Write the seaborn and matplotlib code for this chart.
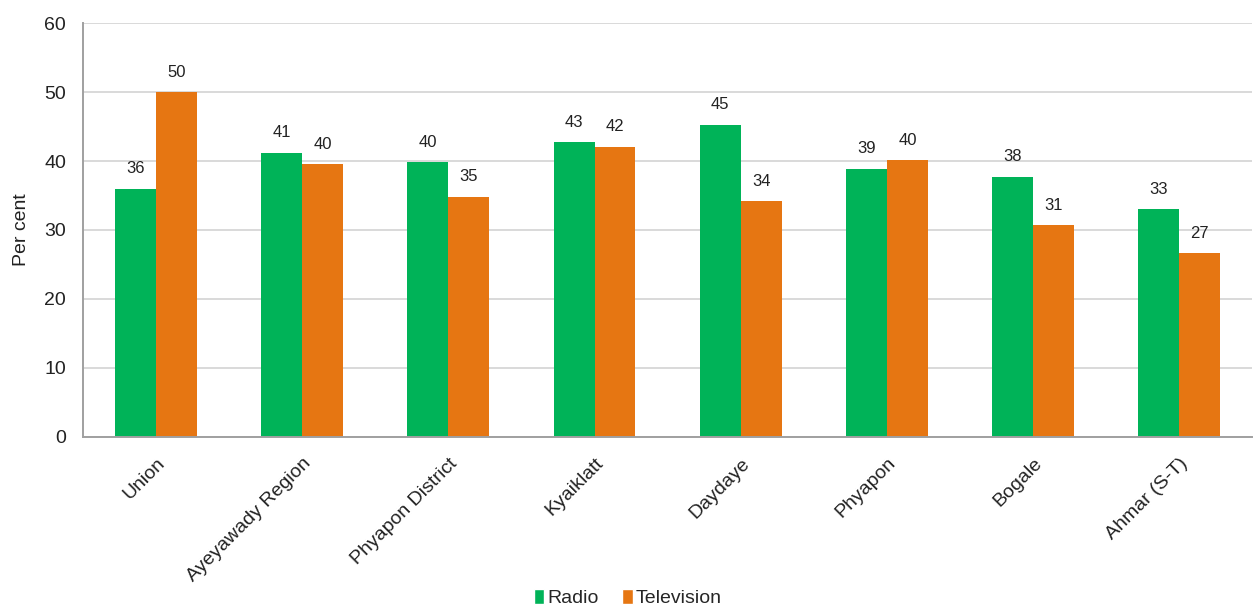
import matplotlib
matplotlib.use("Agg")
import matplotlib.pyplot as plt
import seaborn as sns
import pandas as pd
from matplotlib.patches import Patch

categories = ["Union", "Ayeyawady Region", "Phyapon District", "Kyaiklatt",
              "Daydaye", "Phyapon", "Bogale", "Ahmar (S-T)"]
radio = [36.0, 41.2, 39.8, 42.7, 45.3, 38.9, 37.7, 33.0]
television = [50.0, 39.5, 34.8, 42.1, 34.2, 40.1, 30.7, 26.6]
series = ["Radio", "Television"]
colors = ["#00B358", "#E67612"]
yticks = [0, 10, 20, 30, 40, 50, 60]

df = pd.DataFrame({
    "Area": categories * 2,
    "Source": [series[0]] * len(categories) + [series[1]] * len(categories),
    "Value": radio + television,
})

sns.set_theme(style="white")
plt.rcParams["font.family"] = ["Liberation Sans", "DejaVu Sans"]

fig = plt.figure(figsize=(12.55, 6.10), dpi=100)
ax = fig.add_axes([0.066, 0.284, 0.932, 0.678])

sns.barplot(data=df, x="Area", y="Value", hue="Source", hue_order=series,
            palette=colors, width=0.56, gap=0, saturation=1, errorbar=None,
            linewidth=0, ax=ax, legend=False)

for container in ax.containers:
    ax.bar_label(container, fmt="%.0f", padding=9, fontsize=12, color="#222222")

ax.set_ylim(0, 60)
ax.set_yticks(yticks)
ax.set_yticklabels([str(t) for t in yticks], fontsize=14, color="#222222")
ax.tick_params(axis="y", pad=12, length=0)
ax.tick_params(axis="x", length=0, pad=13)
ax.set_xticks(range(len(categories)))
ax.set_xticklabels(categories, rotation=45, ha="right", rotation_mode="anchor",
                   fontsize=14, color="#222222")
ax.set_xlim(-0.5, len(categories) - 0.5)
ax.set_xlabel("")
ax.set_ylabel("Per cent", fontsize=14, color="#222222", labelpad=10)

ax.yaxis.grid(True, color="#D9D9D9", linewidth=1.4)
ax.set_axisbelow(True)
for side in ["top", "right"]:
    ax.spines[side].set_visible(False)
for side in ["left", "bottom"]:
    ax.spines[side].set_color("#A0A0A0")
    ax.spines[side].set_linewidth(1.4)

handles = [Patch(facecolor=c, label=s) for c, s in zip(colors, series)]
fig.legend(handles=handles, loc="center", bbox_to_anchor=(0.5, 0.02),
           ncol=2, frameon=False, fontsize=14, handlelength=0.55,
           handleheight=0.8, handletextpad=0.15, columnspacing=1.2)

fig.savefig("out.png", dpi=100, facecolor="white")
